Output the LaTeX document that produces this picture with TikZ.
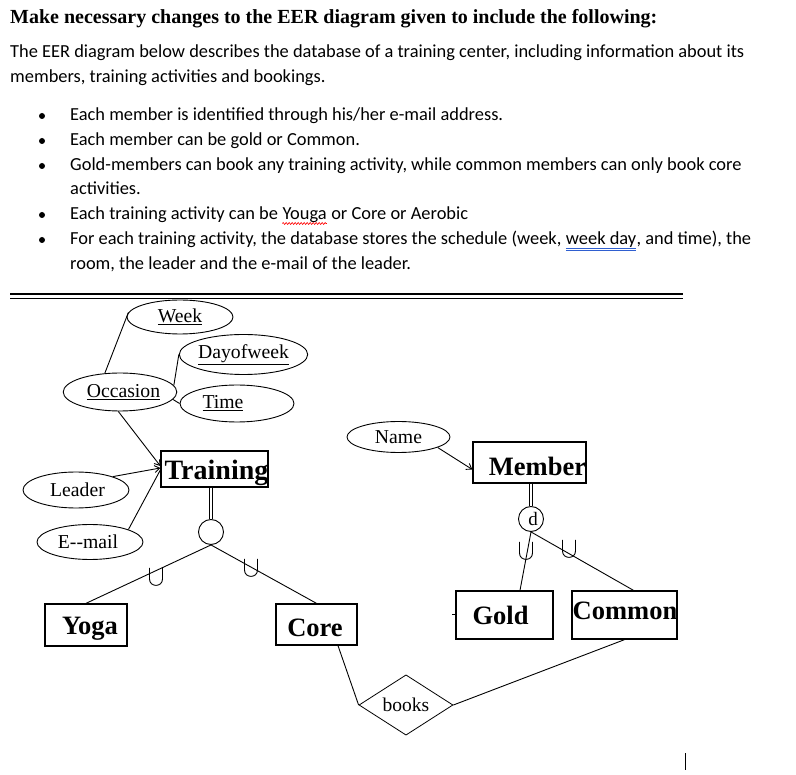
\documentclass[tikz,border=0pt]{standalone}
\usepackage{fontspec}
\setmainfont{Liberation Serif}
\newfontfamily\bodyfont{Carlito}
\usetikzlibrary{shapes.geometric,arrows.meta,decorations.pathmorphing}
\begin{document}
\begin{tikzpicture}[x=1pt,y=-1pt,
 attr/.style={ellipse,draw,line width=0.9pt,inner sep=0pt,font=\fontsize{19.7}{21}\selectfont},
 ent/.style={rectangle,draw,line width=1.3pt,inner sep=0pt},
 entlab/.style={inner sep=0pt,font=\fontsize{26.5}{28}\selectfont\bfseries},
 conn/.style={line width=0.9pt},
 arr/.style={conn,-{Straight Barb[length=5pt,width=7pt]}},
 body/.style={anchor=base west,inner sep=0pt,font=\bodyfont\fontsize{18.4}{22}\selectfont},
 bul/.style={circle,fill,inner sep=0pt,minimum size=6pt},
 umark/.pic={\draw[line width=0.9pt] (-6.5,-9) -- (-6.5,2) .. controls (-6.5,10.5) and (6.5,10.5) .. (6.5,2) -- (6.5,-9);}
 ]
\useasboundingbox (0,0) rectangle (796,775);
\fill[white] (0,0) rectangle (796,775);

% header text
\node[anchor=base west,inner sep=0pt,font=\fontsize{20}{22}\selectfont\bfseries] (title) at (10,24) {Make necessary changes to the EER diagram given to include the following:};
\node[body] (p1) at (10,58) {The EER diagram below describes the database of a training center, including information about its};
\node[body] (p2) at (10,83) {members, training activities and bookings.};

\node[bul] (d1) at (42,116) {};
\node[body] (b1) at (70,121) {Each member is identified through his/her e-mail address.};
\node[bul] (d2) at (42,141) {};
\node[body] (b2) at (70,146) {Each member can be gold or Common.};
\node[bul] (d3) at (42,166) {};
\node[body] (b3) at (70,171) {Gold-members can book any training activity, while common members can only book core};
\node[body] (b3b) at (70,195) {activities.};
\node[bul] (d4) at (42,215) {};
\node[body] (b4) at (70,220) {Each training activity can be\ \null};
\node[body] (youga) at (b4.base east) {Youga};
\node[body] (b4c) at (youga.base east) {\null\ or Core or Aerobic};
\draw[red,line width=0.6pt,decorate,decoration={zigzag,segment length=3pt,amplitude=1pt}] ([yshift=-3.5pt]youga.base west) -- ([yshift=-3.5pt]youga.base east);
\node[bul] (d5) at (42,240) {};
\node[body] (b5) at (70,245) {For each training activity, the database stores the schedule (week,\ \null};
\node[body] (wd) at (b5.base east) {week day};
\node[body] (b5c) at (wd.base east) {, and time), the};
\draw[color={rgb,255:red,47;green,95;blue,208},line width=0.6pt] ([yshift=-3pt]wd.base west) -- ([yshift=-3pt]wd.base east);
\draw[color={rgb,255:red,47;green,95;blue,208},line width=0.6pt] ([yshift=-5pt]wd.base west) -- ([yshift=-5pt]wd.base east);
\node[body] (b5b) at (70,270) {room, the leader and the e-mail of the leader.};

% separator
\draw[line width=2.5pt] (10,294) -- (683,294);
\draw[line width=1pt] (10,298.5) -- (683,298.5);

% attributes
\node[attr,minimum width=106,minimum height=34] (week) at (180,317) {\underline{Week}};
\node[attr,minimum width=126,minimum height=40] (dow) at (243.5,354.5) {\underline{Dayofweek}};
\node[attr,minimum width=104,minimum height=38] (occ) at (120,392) {\hspace*{7pt}\underline{Occasion}};
\node[attr,minimum width=114,minimum height=37] (time) at (237,403.5) {\underline{Time}\hspace*{28pt}};
\node[attr,minimum width=103,minimum height=31] (name) at (398.5,437) {\raisebox{-3pt}{Name}};
\node[attr,minimum width=106,minimum height=36] (leader) at (76,490) {\hspace*{3pt}Leader};
\node[attr,minimum width=106,minimum height=35] (email) at (90,542) {\raisebox{-1pt}{E-{}-mail}\hspace*{4pt}};

% entities
\node[ent,minimum width=107,minimum height=36,label={[entlab,font=\fontsize{28}{30}\selectfont\bfseries,xshift=2pt,yshift=-4pt]center:Training}] (train) at (214.5,469) {};
\node[ent,minimum width=113,minimum height=41,label={[entlab,xshift=8pt,yshift=-3.5pt]center:Member}] (member) at (529.5,462.5) {};
\node[ent,minimum width=82,minimum height=42,label={[entlab,xshift=4pt,yshift=-3.5pt]center:Yoga}] (yoga) at (86,625) {};
\node[ent,minimum width=81,minimum height=41,label={[entlab,xshift=-1.5pt,yshift=-3pt]center:Core}] (core) at (316.5,624.5) {};
\node[ent,minimum width=97,minimum height=48,label={[entlab,xshift=-4pt,yshift=0pt]center:Gold}] (gold) at (504.5,615) {};
\node[ent,minimum width=105,minimum height=48,label={[entlab,xshift=0.5pt,yshift=4pt]center:Common}] (common) at (624.5,615) {};

% relationship
\node[diamond,draw,line width=0.8pt,minimum width=94,minimum height=47,inner sep=0pt,font=\fontsize{19.5}{20}\selectfont] (books) at (406,705) {books};

% specialisation circles
\node[circle,draw,line width=0.9pt,minimum size=25,inner sep=0pt] (tcirc) at (211,532) {};
\node[circle,draw,line width=0.9pt,minimum size=25,inner sep=0pt,font=\fontsize{19}{19}\selectfont] (mcirc) at (531,519) {\hspace*{4pt}\raisebox{-2pt}{d}};

\draw[conn,double,double distance=2.5pt] (train.south -| tcirc) -- (tcirc.north);
\draw[conn,double,double distance=2.5pt] (member.south -| mcirc) -- (mcirc.north);

% connectors
\draw[conn] (week.175) -- (occ.129);
\draw[conn] (dow.west) -- (occ.7);
\draw[conn] (occ.-8) -- (time.west);
\draw[arr] (occ.265) -- ([yshift=3]train.west);
\draw[arr] (leader.20) -- ([yshift=1]train.west);
\draw[conn] (email.18) -- ([yshift=-1]train.west);
\draw[arr] (name.-15) -- ([yshift=-7]member.west);
\draw[conn] (tcirc.south) -- (yoga.north);
\draw[conn] (tcirc.south) -- (core.north);
\draw[conn] (mcirc.south) -- ([xshift=15.5]gold.north);
\draw[conn] (mcirc.south) -- ([xshift=9]common.north);
\draw[conn] ([xshift=21.5]core.south) -- (books.west);
\draw[conn] (books.east) -- (common.south);
\draw[conn] ([yshift=1]gold.west) -- ++(-3,0);

% union marks
\pic at (156,577) {umark};
\pic at (251,568) {umark};
\pic at (526,551) {umark};
\pic at (569,549) {umark};

% cursor
\draw[line width=1pt] (685,753) -- (685,770);
\end{tikzpicture}
\end{document}
